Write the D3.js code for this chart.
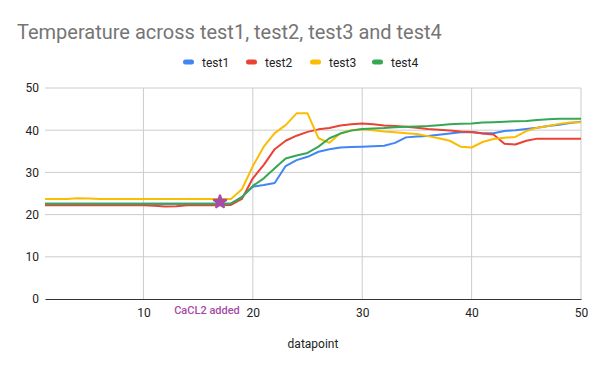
<!DOCTYPE html>
<html>
<head>
<meta charset="utf-8">
<script src="https://cdn.jsdelivr.net/npm/d3@7"></script>
<style>
  body { margin: 0; background: #fff; }
  svg { font-family: Roboto, Arial, sans-serif; }
</style>
</head>
<body>
<div id="chart"></div>
<script>
const datapoints = d3.range(1, 51);

const test1 = [22.6, 22.6, 22.6, 22.6, 22.6, 22.6, 22.6, 22.6, 22.6, 22.6,
  22.6, 22.6, 22.6, 22.6, 22.6, 22.6, 22.6, 22.6, 24.2, 26.6,
  27.0, 27.5, 31.5, 32.9, 33.7, 34.9, 35.5, 35.9, 36.0, 36.1,
  36.2, 36.3, 37.0, 38.3, 38.5, 38.6, 38.9, 39.2, 39.5, 39.6,
  39.3, 39.3, 39.8, 40.0, 40.3, 40.6, 41.0, 41.3, 41.7, 42.0];

const test2 = [22.2, 22.2, 22.2, 22.2, 22.2, 22.2, 22.2, 22.2, 22.2, 22.2,
  22.1, 21.9, 22.0, 22.2, 22.2, 22.2, 22.2, 22.3, 23.7, 28.6,
  31.8, 35.5, 37.5, 38.7, 39.6, 40.2, 40.5, 41.1, 41.4, 41.6,
  41.4, 41.1, 41.0, 40.8, 40.6, 40.3, 40.1, 39.9, 39.7, 39.6,
  39.2, 39.0, 36.8, 36.6, 37.5, 38.0, 38.0, 38.0, 38.0, 38.0];

const test3 = [23.7, 23.7, 23.7, 23.9, 23.8, 23.7, 23.7, 23.7, 23.7, 23.7,
  23.7, 23.7, 23.7, 23.7, 23.7, 23.7, 23.7, 23.7, 26.0, 31.5,
  36.1, 39.3, 41.2, 44.0, 44.0, 38.1, 37.0, 39.3, 40.0, 40.2,
  40.0, 39.7, 39.5, 39.3, 39.1, 38.6, 38.1, 37.5, 36.1, 35.9,
  37.2, 37.9, 38.2, 38.4, 39.8, 40.6, 41.0, 41.5, 41.8, 41.9];

const test4 = [22.6, 22.6, 22.6, 22.6, 22.6, 22.6, 22.6, 22.6, 22.6, 22.6,
  22.6, 22.6, 22.6, 22.6, 22.6, 22.6, 22.6, 22.6, 24.1, 26.8,
  28.6, 31.0, 33.3, 34.0, 34.6, 36.1, 38.1, 39.2, 39.9, 40.3,
  40.4, 40.5, 40.7, 40.8, 40.9, 41.0, 41.2, 41.4, 41.5, 41.6,
  41.8, 41.9, 42.0, 42.1, 42.2, 42.4, 42.6, 42.7, 42.7, 42.7];

const seriesNames = ["test1", "test2", "test3", "test4"];
const seriesColors = ["#4285f4", "#ea4335", "#fbbc04", "#34a853"];
const seriesValues = [test1, test2, test3, test4];

const yTicks = [0, 10, 20, 30, 40, 50];
const xTicks = [10, 20, 30, 40, 50];

const markerPoint = { x: 17, y: 23, label: "CaCL2 added" };

const W = 600, H = 371;
const margin = { top: 88, right: 19, bottom: 72, left: 45 };
const width = W - margin.left - margin.right;
const height = H - margin.top - margin.bottom;

const svg = d3.select("#chart").append("svg")
  .attr("width", W)
  .attr("height", H);

svg.append("text")
  .attr("x", 17)
  .attr("y", 39)
  .attr("fill", "#757575")
  .style("font-size", "20px")
  .text("Temperature across test1, test2, test3 and test4");

// legend
const legendX = [183, 246, 310, 372];
seriesNames.forEach((name, i) => {
  const g = svg.append("g").attr("transform", `translate(${legendX[i]},62)`);
  g.append("rect")
    .attr("x", 0).attr("y", -2.5)
    .attr("width", 11).attr("height", 5)
    .attr("rx", 2.5)
    .attr("fill", seriesColors[i]);
  g.append("text")
    .attr("x", 19).attr("y", 4.5)
    .attr("fill", "#222")
    .style("font-size", "12px")
    .text(name);
});

const plot = svg.append("g")
  .attr("transform", `translate(${margin.left},${margin.top})`);

const x = d3.scaleLinear().domain([1, 50]).range([0, width]);
const y = d3.scaleLinear().domain([0, 50]).range([height, 0]);

// gridlines
plot.append("g")
  .selectAll("line")
  .data(yTicks.filter(d => d > 0))
  .join("line")
  .attr("x1", 0).attr("x2", width)
  .attr("y1", d => y(d)).attr("y2", d => y(d))
  .attr("stroke", "#cccccc");

plot.append("g")
  .selectAll("line")
  .data(xTicks)
  .join("line")
  .attr("x1", d => x(d)).attr("x2", d => x(d))
  .attr("y1", 0).attr("y2", height)
  .attr("stroke", "#cccccc");

// y axis labels
const yAxis = plot.append("g")
  .call(d3.axisLeft(y).tickValues(yTicks).tickSize(0).tickPadding(6));
yAxis.select(".domain").remove();
yAxis.selectAll("text")
  .attr("fill", "#222")
  .style("font-size", "12px")
  .style("font-family", "Roboto, Arial, sans-serif");

// x axis
const xAxis = plot.append("g")
  .attr("transform", `translate(0,${height})`)
  .call(d3.axisBottom(x).tickValues(xTicks).tickSize(0).tickPadding(9));
xAxis.select(".domain").attr("stroke", "#333").attr("stroke-width", 1.2);
xAxis.selectAll("text")
  .attr("fill", "#222")
  .style("font-size", "12px")
  .style("font-family", "Roboto, Arial, sans-serif");

svg.append("text")
  .attr("x", margin.left + width / 2)
  .attr("y", 348)
  .attr("text-anchor", "middle")
  .attr("fill", "#222")
  .style("font-size", "12px")
  .text("datapoint");

// lines
const line = d3.line()
  .x((d, i) => x(datapoints[i]))
  .y(d => y(d));

seriesValues.forEach((vals, i) => {
  plot.append("path")
    .datum(vals)
    .attr("fill", "none")
    .attr("stroke", seriesColors[i])
    .attr("stroke-width", 2)
    .attr("stroke-linejoin", "round")
    .attr("d", line);
});

// marker point
const purple = "#a64ca6";
plot.append("path")
  .attr("d", d3.symbol().type(d3.symbolStar).size(45)())
  .attr("transform", `translate(${x(markerPoint.x)},${y(markerPoint.y)})`)
  .attr("fill", purple)
  .attr("stroke", purple)
  .attr("stroke-width", 2.5)
  .attr("stroke-linejoin", "round");

plot.append("text")
  .attr("x", x(markerPoint.x) - 13)
  .attr("y", height + 15)
  .attr("text-anchor", "middle")
  .attr("fill", purple)
  .style("font-size", "11px")
  .style("font-weight", "500")
  .text(markerPoint.label);
</script>
</body>
</html>
